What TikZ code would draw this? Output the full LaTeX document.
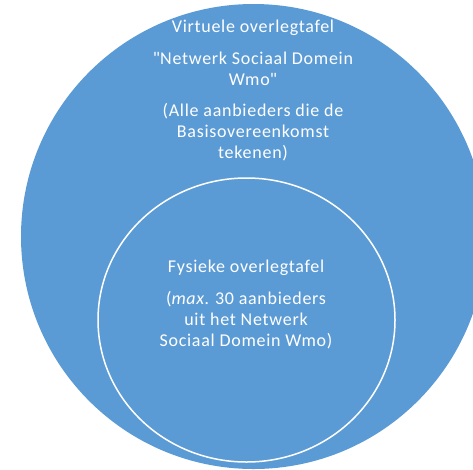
\documentclass[tikz,border=0pt]{standalone}
\usepackage{fontspec}
\setmainfont{Carlito}
\usetikzlibrary{shapes.geometric}
\definecolor{tafelblue}{RGB}{91,155,213}

\begin{document}
\begin{tikzpicture}[x=1pt,y=-1pt,
ring/.style={draw=white,line width=1.5pt,inner sep=0pt},
label/.style={text=white,align=center,inner sep=0pt,anchor=north,
  font=\addfontfeatures{LetterSpace=4}\fontsize{18}{21}\selectfont}]

\useasboundingbox (0,0) rectangle (473,469);
\clip (0,0) rectangle (473,469);

\node[circle,fill=tafelblue,inner sep=0pt,minimum size=465pt] (outer) at (253.5,236.5) {};
\node[ellipse,ring,minimum width=297pt,minimum height=284pt] (inner) at (246.5,320) {};

\node[label] (virtueel) at (253,20) {Virtuele overlegtafel\\[11pt]
\textquotedbl Netwerk Sociaal Domein\\Wmo\textquotedbl\\[10pt]
(Alle aanbieders die de\\Basisovereenkomst\\tekenen)};
\node[label] (fysiek) at (246,260) {Fysieke overlegtafel\\[11pt]
(\textit{max.}\ 30 aanbieders\\uit het Netwerk\\Sociaal Domein Wmo)};
\end{tikzpicture}
\end{document}
